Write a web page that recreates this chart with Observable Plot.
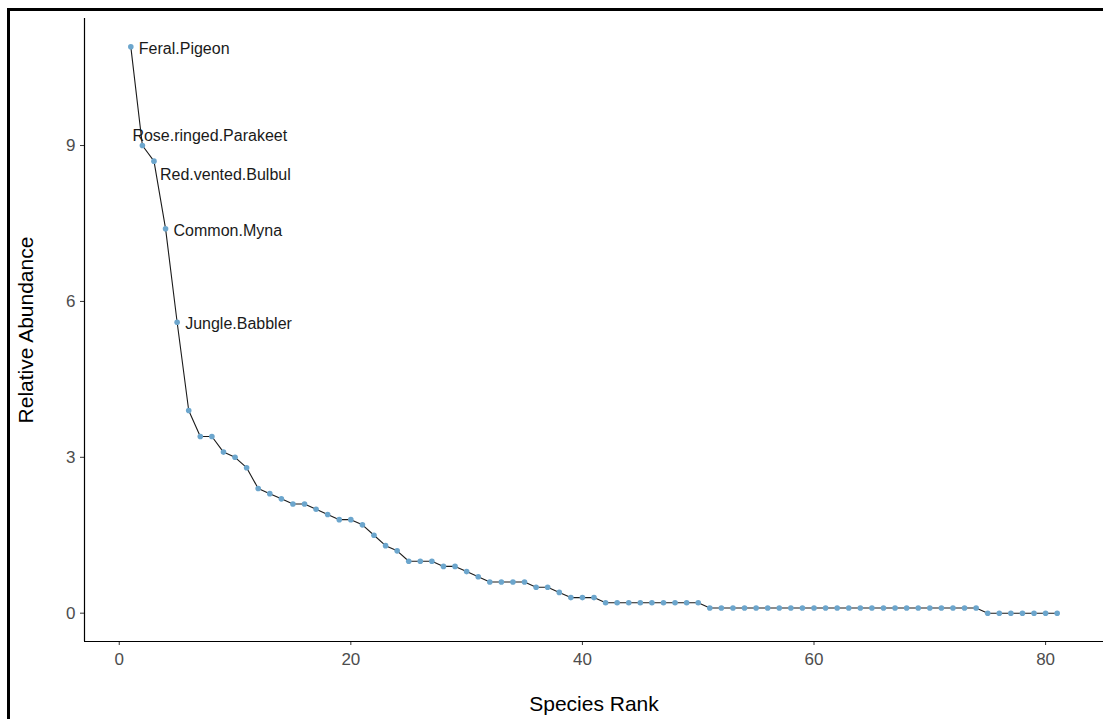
<!DOCTYPE html>
<html>
<head>
<meta charset="utf-8">
<script src="https://cdn.jsdelivr.net/npm/d3@7"></script>
<script src="https://cdn.jsdelivr.net/npm/@observablehq/plot@0.6"></script>
<style>
  html, body { margin: 0; padding: 0; background: #fff; overflow: hidden; }
  #wrap { position: relative; width: 1103px; height: 719px; }
  #border { position: absolute; left: 7px; top: 8px; width: 1200px; height: 800px;
            border-top: 3px solid #000; border-left: 3px solid #000; pointer-events: none; }
  svg { display: block; }
</style>
</head>
<body>
<div id="wrap"><div id="chart"></div><div id="border"></div></div>
<script>
// Relative abundance of each species, ordered by rank (rank = position + 1)
const abundance = [
  10.9, 9.0, 8.7, 7.4, 5.6, 3.9, 3.4, 3.4, 3.1, 3.0,
  2.8, 2.4, 2.3, 2.2, 2.1, 2.1, 2.0, 1.9, 1.8, 1.8,
  1.7, 1.5, 1.3, 1.2, 1.0, 1.0, 1.0, 0.9, 0.9, 0.8,
  0.7, 0.6, 0.6, 0.6, 0.6, 0.5, 0.5, 0.4, 0.3, 0.3,
  0.3, 0.2, 0.2, 0.2, 0.2, 0.2, 0.2, 0.2, 0.2, 0.2,
  0.1, 0.1, 0.1, 0.1, 0.1, 0.1, 0.1, 0.1, 0.1, 0.1,
  0.1, 0.1, 0.1, 0.1, 0.1, 0.1, 0.1, 0.1, 0.1, 0.1,
  0.1, 0.1, 0.1, 0.1, 0.0, 0.0, 0.0, 0.0, 0.0, 0.0,
  0.0
];
// Names of the top-ranked (labelled) species
const topNames = ["Feral.Pigeon", "Rose.ringed.Parakeet", "Red.vented.Bulbul", "Common.Myna", "Jungle.Babbler"];
const xTicks = [0, 20, 40, 60, 80];
const yTicks = [0, 3, 6, 9];
const xTitle = "Species Rank";
const yTitle = "Relative Abundance";

const data = abundance.map((v, i) => ({rank: i + 1, value: v}));
const labels = topNames.map((name, i) => ({rank: i + 1, value: abundance[i], name}));

// ggplot-style 5% expansion
function expand([lo, hi]) { const p = (hi - lo) * 0.05; return [lo - p, hi + p]; }
const xDomain = expand(d3.extent(data, d => d.rank));
const yDomain = expand(d3.extent(data, d => d.value));

const font = "'Liberation Sans', Arial, sans-serif";
const labelOpts = {x: "rank", y: "value", text: "name", fontSize: 16, fill: "#1a1a1a", textAnchor: "start", lineAnchor: "middle"};
const pick = (...names) => labels.filter(d => names.includes(d.name));

const chart = Plot.plot({
  width: 1103,
  height: 719,
  marginTop: 18,
  marginBottom: 78,
  marginLeft: 84,
  marginRight: 0,
  style: {fontFamily: font, background: "transparent"},
  x: {domain: xDomain},
  y: {domain: yDomain},
  marks: [
    Plot.axisX({ticks: xTicks, tickSize: 4, tickPadding: 7, fontSize: 17, stroke: "#333", fill: "#4d4d4d", label: null}),
    Plot.axisY({ticks: yTicks, tickSize: 4, tickPadding: 5, fontSize: 17, stroke: "#333", fill: "#4d4d4d", label: null}),
    Plot.ruleX([xDomain[0]], {stroke: "#000", strokeWidth: 1.2}),
    Plot.ruleY([yDomain[0]], {stroke: "#000", strokeWidth: 1.2}),
    Plot.line(data, {x: "rank", y: "value", stroke: "#1a1a1a", strokeWidth: 1.1}),
    Plot.dot(data, {x: "rank", y: "value", r: 2.8, fill: "#6CA6CD", stroke: "none"}),
    Plot.text(pick("Feral.Pigeon", "Common.Myna", "Jungle.Babbler"), {...labelOpts, dx: 8, dy: 2}),
    Plot.text(pick("Rose.ringed.Parakeet"), {...labelOpts, dx: -10, dy: -10}),
    Plot.text(pick("Red.vented.Bulbul"), {...labelOpts, dx: 6, dy: 14}),
    Plot.text([xTitle], {frameAnchor: "bottom", text: d => d, dy: 63, fontSize: 21, fill: "#000", textAnchor: "middle", lineAnchor: "middle"}),
    Plot.text([yTitle], {frameAnchor: "left", text: d => d, dx: -58, rotate: -90, fontSize: 21, fill: "#000", textAnchor: "middle", lineAnchor: "middle"})
  ]
});
document.getElementById("chart").appendChild(chart);
</script>
</body>
</html>
